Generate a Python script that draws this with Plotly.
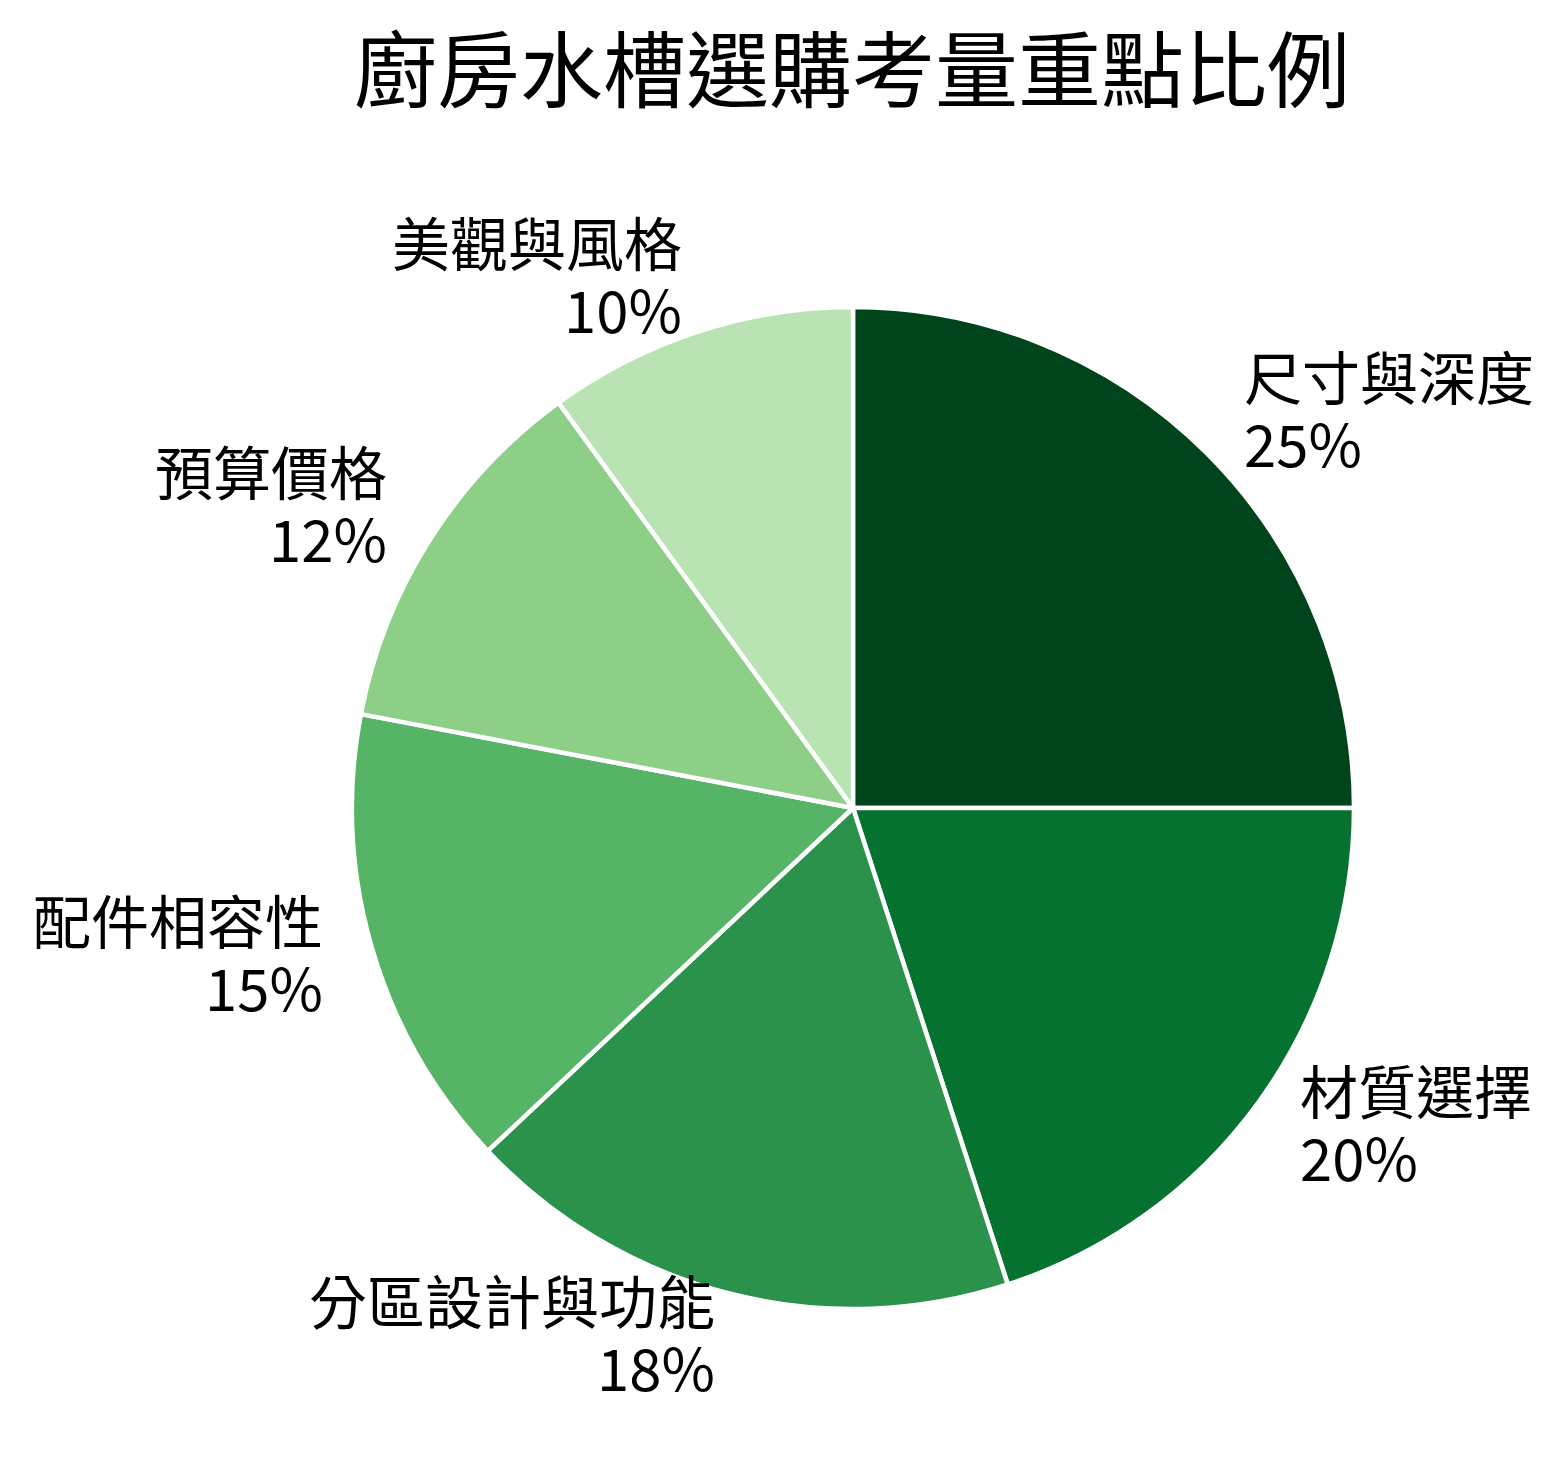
import math
import plotly.graph_objects as go

labels = ["尺寸與深度", "材質選擇", "分區設計與功能", "配件相容性", "預算價格", "美觀與風格"]
values = [25, 20, 18, 15, 12, 10]
colors = ["#00441b", "#067230", "#2b924b", "#55b466", "#8ecf87", "#b9e3b3"]

W, H = 1566, 1468
off = 8  # page body margin
cx, cy, r = 853 - off, 808 - off, 501  # pie centre / radius in pixels

fig = go.Figure(go.Pie(
    labels=labels,
    values=values,
    sort=False,
    direction="clockwise",
    rotation=0,
    marker=dict(colors=colors, line=dict(color="white", width=4.5)),
    textinfo="none",
    hoverinfo="label+percent",
    domain=dict(x=[(cx - r) / W, (cx + r) / W], y=[1 - (cy + r) / H, 1 - (cy - r) / H]),
    showlegend=False,
))

# labels outside each slice, at 1.1 x radius on the mid angle
total = sum(values)
start = 90.0
font = dict(family="Noto Sans CJK TC", size=58, color="black")
for lab, v in zip(labels, values):
    span = 360.0 * v / total
    mid = math.radians(start - span / 2)
    start -= span
    px = cx + 1.1 * r * math.cos(mid)
    py = cy - 1.1 * r * math.sin(mid)
    anchor = "left" if math.cos(mid) >= 0 else "right"
    for txt, dy in ((lab, -43), (f"{v / total * 100:.0f}%", 24)):
        fig.add_annotation(
            x=px / W, y=1 - (py + dy) / H, xref="paper", yref="paper",
            text=txt, showarrow=False, xanchor=anchor, yanchor="middle",
            align=anchor, font=font, borderpad=0,
        )

fig.update_layout(
    width=W, height=H,
    margin=dict(l=0, r=0, t=0, b=0),
    paper_bgcolor="white",
    plot_bgcolor="white",
    title=dict(text="廚房水槽選購考量重點比例", x=(852 - off) / W, xanchor="center",
               y=1 - (72 - off) / H, yanchor="middle",
               font=dict(family="Noto Sans CJK TC", size=83, color="black")),
)

fig.write_html("out.html")
